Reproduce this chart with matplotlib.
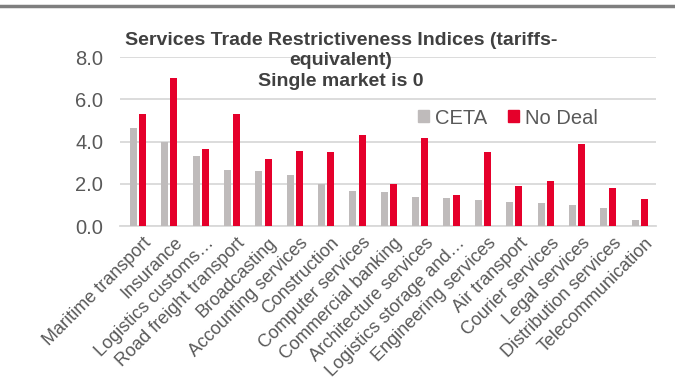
import matplotlib
matplotlib.use("Agg")
import matplotlib.pyplot as plt
import numpy as np
from matplotlib.lines import Line2D
from matplotlib.patches import Patch

plt.rcParams['font.family'] = ['Liberation Sans', 'DejaVu Sans']

sectors = ['Maritime transport', 'Insurance', 'Logistics customs…',
           'Road freight transport', 'Broadcasting', 'Accounting services',
           'Construction', 'Computer services', 'Commercial banking',
           'Architecture services', 'Logistics storage and…',
           'Engineering services', 'Air transport', 'Courier services',
           'Legal services', 'Distribution services', 'Telecommunication']
ceta = [4.66, 4.0, 3.33, 2.66, 2.6, 2.4, 1.97, 1.66, 1.62, 1.39,
        1.31, 1.23, 1.15, 1.1, 1.0, 0.84, 0.28]
no_deal = [5.31, 7.0, 3.65, 5.31, 3.19, 3.55, 3.49, 4.32, 1.97, 4.19,
           1.48, 3.49, 1.9, 2.13, 3.87, 1.82, 1.28]

grey = '#bfbbbb'
red = '#e5002b'
txt = '#595959'

fig = plt.figure(figsize=(6.75, 3.85), dpi=100)
ax = fig.add_axes([120/675, 1 - 226/385, 536/675, (226 - 57.3)/385])

x = np.arange(len(sectors))
w = 0.223
ax.bar(x - 0.147, ceta, w, color=grey, label='CETA', zorder=3)
ax.bar(x + 0.147, no_deal, w, color=red, label='No Deal', zorder=3)

ax.set_ylim(0, 8)
ax.set_yticks([0, 2, 4, 6, 8])
ax.set_yticklabels(['%.1f' % v for v in [0, 2, 4, 6, 8]])
ax.set_xlim(-0.574, len(sectors) - 1 + 0.52)
ax.grid(axis='y', color='#d9d9d9', linewidth=1.3, zorder=0)
for s in ['top', 'right', 'left']:
    ax.spines[s].set_visible(False)
ax.spines['bottom'].set_color('#d9d9d9')
ax.spines['bottom'].set_linewidth(1.3)
ax.tick_params(axis='y', length=0, labelsize=14.5, labelcolor=txt, pad=12)
ax.tick_params(axis='x', length=0, labelsize=13, labelcolor=txt, pad=6)
ax.set_xticks(x + 0.15)
ax.set_xticklabels(sectors, rotation=45, ha='right', va='top',
                   rotation_mode='anchor')

title_lines = ['Services Trade Restrictiveness Indices (tariffs-',
               'equivalent)', 'Single market is 0']
for line, yb in zip(title_lines, [45, 65, 86]):
    fig.text(341/675, 1 - yb/385, line, ha='center', va='baseline',
             fontsize=14, fontweight='bold', color='#404040')

handles = [Patch(color=grey), Patch(color=red)]
leg = fig.legend(handles, ['CETA', 'No Deal'], loc='center',
                 bbox_to_anchor=(508/675, 1 - 118/385), ncol=2, frameon=False,
                 fontsize=14.5, handlelength=0.55, handleheight=0.55,
                 handletextpad=0.3, columnspacing=1.0)
for t in leg.get_texts():
    t.set_color(txt)

fig.add_artist(Line2D([0, 1], [1 - 5.5/385, 1 - 5.5/385], color='#7f7f7f',
                      linewidth=2.5, transform=fig.transFigure))

fig.savefig('out.png', dpi=100)
